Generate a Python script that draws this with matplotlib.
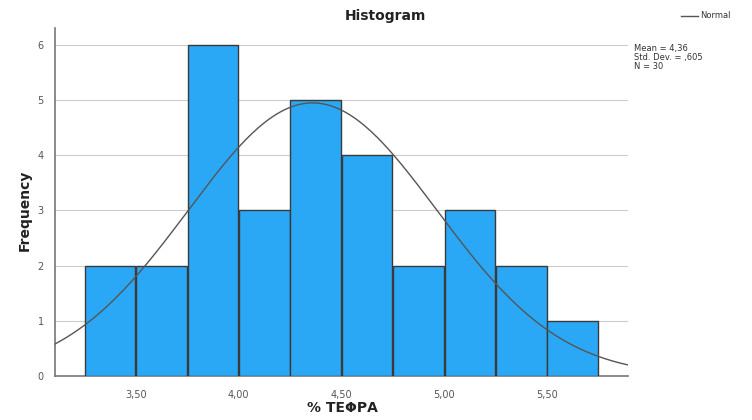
import numpy as np
import matplotlib
matplotlib.use('Agg')
import matplotlib.pyplot as plt

# histogram bins (edges) and counts
bin_edges = [3.25, 3.50, 3.75, 4.00, 4.25, 4.50, 4.75, 5.00, 5.25, 5.50, 5.75]
counts = [2, 2, 6, 3, 5, 4, 2, 3, 2, 1]
mean, std_dev, n_obs = 4.36, 0.605, 30
x_ticks = [3.50, 4.00, 4.50, 5.00, 5.50]
x_tick_labels = ['3,50', '4,00', '4,50', '5,00', '5,50']
y_ticks = [0, 1, 2, 3, 4, 5, 6]

fig = plt.figure(figsize=(7.52, 4.2), dpi=100)
ax = fig.add_axes([0.073, 0.105, 0.762, 0.828])

widths = np.diff(bin_edges)
gap = 0.004
ax.bar(np.array(bin_edges[:-1]) + gap / 2, counts, width=widths - gap, align='edge',
       color='#2AA8F5', edgecolor='#3a3a3a', linewidth=1.0, zorder=3)

# normal curve scaled to counts
xmin, xmax = 3.106, 5.894
xs = np.linspace(xmin, xmax, 300)
bw = widths[0]
ys = n_obs * bw / (std_dev * np.sqrt(2 * np.pi)) * np.exp(-0.5 * ((xs - mean) / std_dev) ** 2)
ax.plot(xs, ys, color='#555555', lw=1.0, zorder=4)

ax.set_xlim(xmin, xmax)
ax.set_ylim(0, 6.3)
ax.set_xticks(x_ticks)
ax.set_xticklabels(x_tick_labels)
ax.set_yticks(y_ticks)
ax.tick_params(axis='both', labelsize=7, colors='#555555', length=0)
ax.tick_params(axis='x', pad=10)
ax.tick_params(axis='y', pad=8)
ax.yaxis.grid(True, color='#cccccc', lw=0.8, zorder=0)
for s in ['top', 'right']:
    ax.spines[s].set_visible(False)
for s in ['left', 'bottom']:
    ax.spines[s].set_color('#777777')
    ax.spines[s].set_linewidth(1.2)

fig.text(0.033, 0.50, 'Frequency', rotation=90, ha='center', va='center',
         fontsize=10, fontweight='bold', color='#222222')
fig.text(0.455, 0.028, '% ΤΕΦΡΑ', ha='center', va='center',
         fontsize=10, fontweight='bold', color='#222222')

fig.text(0.512, 0.962, 'Histogram', ha='center', va='center',
         fontsize=10, fontweight='bold', color='#222222')

# legend for normal line
fig.lines.append(plt.Line2D([0.905, 0.928], [0.962, 0.962], transform=fig.transFigure,
                            color='#555555', lw=1.0))
fig.text(0.931, 0.962, 'Normal', ha='left', va='center', fontsize=6, color='#333333')

fig.text(0.843, 0.862, 'Mean = 4,36\nStd. Dev. = ,605\nN = 30', ha='left', va='center',
         fontsize=6, color='#333333', linespacing=1.0)

fig.savefig('out.png', dpi=100)
